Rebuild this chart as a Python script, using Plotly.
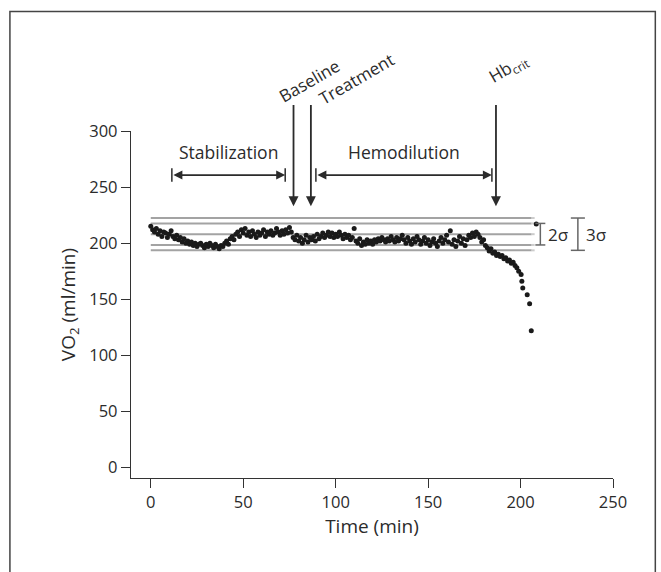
import plotly.graph_objects as go

# ---- data ----
time_min = list(range(0, 200)) + [200.3, 200.7, 201.2, 203.6, 204.9, 205.8]
vo2 = [
    215, 212, 210, 213, 208, 211, 206, 210, 209, 205,
    208, 211, 206, 204, 207, 203, 205, 201, 204, 200,
    202, 199, 201, 198, 200, 197, 199, 200, 198, 196,
    199, 197, 200, 198, 196, 199, 197, 195, 198, 197,
    200, 202, 199, 204, 206, 203, 208, 210, 206, 212,
    209, 213, 207, 210, 206, 211, 208, 205, 210, 207,
    209, 212, 206, 210, 208, 211, 207, 209, 213, 210,
    207, 211, 208, 212, 209, 214, 210, 205, 203, 207,
    202, 205, 200, 203, 207, 201, 205, 203, 206, 202,
    208, 204, 206, 209, 205, 207, 210, 206, 209, 205,
    208, 206, 210, 207, 204, 208, 205, 207, 203, 205,
    213, 202, 200, 204, 198, 201, 199, 203, 200, 202,
    199, 203, 201, 204, 202, 205, 203, 201, 204, 202,
    206, 203, 201, 205, 202, 204, 207, 203, 200, 205,
    202, 199, 204, 201, 206, 203, 199, 202, 205, 200,
    203, 198, 201, 204, 200, 197, 202, 205, 200, 203,
    207, 201, 211, 199, 203, 197, 202, 206, 200, 204,
    198, 203, 207, 205, 209, 206, 210, 208, 205, 201,
    203, 198, 196, 193, 195, 191, 192, 189, 190, 188,
    189, 186, 187, 184, 185, 182, 183, 180, 178, 175,
    172, 166, 160, 154, 146, 122,
]
extra_t = [208.5]
extra_v = [217]

mean_vo2 = 208
sigma = 4.8
band_end = 206

phase_labels = ["Stabilization", "Hemodilution"]
phase_start = [11.4, 89.3]
phase_end = [72.7, 184.5]
event_labels = ["Baseline", "Treatment", "Hb<sub>crit</sub>"]
event_time = [77.2, 86.6, 186.7]

FONT = "Open Sans, Noto Sans, sans-serif"
DARK = "#2b2b2b"
GRAY = "#a3a3a3"

fig = go.Figure()

# sigma band lines
levels = [mean_vo2 - 3 * sigma, mean_vo2 - 2 * sigma, mean_vo2,
          mean_vo2 + 2 * sigma, mean_vo2 + 3 * sigma]
for lv in levels:
    fig.add_trace(go.Scatter(x=[0, band_end], y=[lv, lv], mode="lines",
                             line=dict(color=GRAY, width=2), showlegend=False,
                             hoverinfo="skip"))
    fig.add_trace(go.Scatter(x=[band_end, band_end + 2.5], y=[lv, lv], mode="lines",
                             line=dict(color="#cccccc", width=2, dash="dot"),
                             showlegend=False, hoverinfo="skip"))

fig.add_trace(go.Scatter(x=time_min, y=vo2, mode="markers",
                         marker=dict(color="#1a1a1a", size=5),
                         showlegend=False))
fig.add_trace(go.Scatter(x=extra_t, y=extra_v, mode="markers",
                         marker=dict(color="#1a1a1a", size=5),
                         showlegend=False))

shapes = []
annotations = []

# sigma brackets
for k, bx, cap, label, tx in [(2, 210.7, 2.7, "2σ", 214.0), (3, 231.0, 3.8, "3σ", 234.5)]:
    lo, hi = mean_vo2 - k * sigma, mean_vo2 + k * sigma
    shapes.append(dict(type="line", x0=bx, x1=bx, y0=lo, y1=hi,
                       line=dict(color="#666666", width=1.5)))
    for yy in (lo, hi):
        shapes.append(dict(type="line", x0=bx - cap, x1=bx + cap, y0=yy, y1=yy,
                           line=dict(color="#666666", width=1.5)))
    annotations.append(dict(x=tx, y=mean_vo2, text=label, showarrow=False,
                            xanchor="left", yanchor="middle",
                            font=dict(family=FONT, size=17, color=DARK)))

# phase double arrows
arrow_y = 260.7
for lab, s, e in zip(phase_labels, phase_start, phase_end):
    annotations.append(dict(x=e, y=arrow_y, ax=s, ay=arrow_y, axref="x", ayref="y",
                            xref="x", yref="y", text="", showarrow=True,
                            arrowhead=2, startarrowhead=2, arrowside="end+start",
                            arrowsize=1, startarrowsize=1, arrowwidth=1.8,
                            arrowcolor=DARK))
    for xx in (s, e):
        shapes.append(dict(type="line", x0=xx, x1=xx, y0=arrow_y - 6, y1=arrow_y + 6,
                           line=dict(color=DARK, width=1.5)))
    annotations.append(dict(x=(s + e) / 2, y=281.5, text=lab, showarrow=False,
                            font=dict(family=FONT, size=17.5, color=DARK)))

# event arrows
label_pos = [(86.0, 1.145), (111.5, 1.150), (193.3, 1.180)]
for lab, t, (lx, ly) in zip(event_labels, event_time, label_pos):
    annotations.append(dict(x=t, y=233, ax=t, ay=324.6, axref="x", ayref="y",
                            xref="x", yref="y", text="", showarrow=True,
                            arrowhead=2, arrowsize=1.1, arrowwidth=1.8,
                            arrowcolor=DARK))
    annotations.append(dict(x=lx, y=ly, xref="x", yref="paper", text=lab,
                            showarrow=False, textangle=-30,
                            xanchor="center", yanchor="middle",
                            font=dict(family=FONT, size=17, color=DARK)))

# outer frame
shapes.append(dict(type="rect", xref="paper", yref="paper",
                   x0=-0.2512, x1=1.0878, y0=-0.30, y1=1.3447,
                   line=dict(color="#444444", width=1.5)))

fig.update_layout(
    width=661, height=572,
    margin=dict(l=131, r=48, t=131, b=94, autoexpand=False),
    paper_bgcolor="white", plot_bgcolor="white",
    font=dict(family=FONT, size=16, color=DARK),
    shapes=shapes, annotations=annotations,
    xaxis=dict(range=[-10.7, 250], tickvals=[0, 50, 100, 150, 200, 250],
               showline=True, linecolor="#333333", linewidth=1.3,
               ticks="outside", ticklen=9, tickcolor="#333333", tickwidth=1.3,
               showgrid=False, zeroline=False, automargin=False,
               title=dict(text="Time (min)", standoff=6),
               tickfont=dict(size=16.5)),
    yaxis=dict(range=[-9.4, 300], tickvals=[0, 50, 100, 150, 200, 250, 300],
               showline=True, linecolor="#333333", linewidth=1.3,
               ticks="outside", ticklen=9, tickcolor="#333333", tickwidth=1.3,
               showgrid=False, zeroline=False, automargin=False,
               title=dict(text="VO<sub>2</sub> (ml/min)", standoff=8),
               tickfont=dict(size=16.5)),
)

fig.write_html("out.html", config={"displayModeBar": False},
               post_script="document.body.style.margin='0';document.body.style.overflow='hidden';")
